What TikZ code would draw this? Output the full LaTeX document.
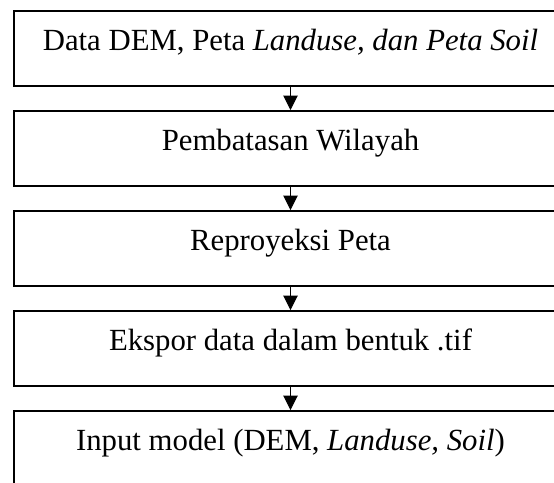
\documentclass[tikz,border=0pt]{standalone}
\usepackage{fontspec}
\setmainfont{Liberation Serif}
\usetikzlibrary{arrows.meta,positioning}

\tikzset{
    stepbox/.style={draw,line width=0.8pt,rectangle,minimum width=221.2pt,
        inner xsep=0pt,inner ysep=0pt,text height=15.6pt,text depth=14.4pt,
        font=\fontsize{12.3}{14}\selectfont},
    flow/.style={-{Triangle[length=5.8pt,width=5.8pt]},line width=0.4pt}
}

\begin{document}
\begin{tikzpicture}[x=0.4pt,y=-0.4pt,node distance=9.2pt]
    \clip (0,0) rectangle (554,482);

    \node[stepbox,anchor=north] (data) at (290.5,10) {Data DEM, Peta \textit{Landuse, dan Peta Soil}};
    \node[stepbox,below=of data] (batas) {Pembatasan Wilayah};
    \node[stepbox,below=of batas] (proyeksi) {Reproyeksi Peta};
    \node[stepbox,below=of proyeksi] (ekspor) {Ekspor data dalam bentuk .tif};
    \node[stepbox,below=of ekspor] (input) {Input model (DEM, \textit{Landuse, Soil})};

    \foreach \a/\b in {data/batas,batas/proyeksi,proyeksi/ekspor,ekspor/input} {
        \draw[flow] (\a.south) -- (\b.north);
    }
\end{tikzpicture}
\end{document}
